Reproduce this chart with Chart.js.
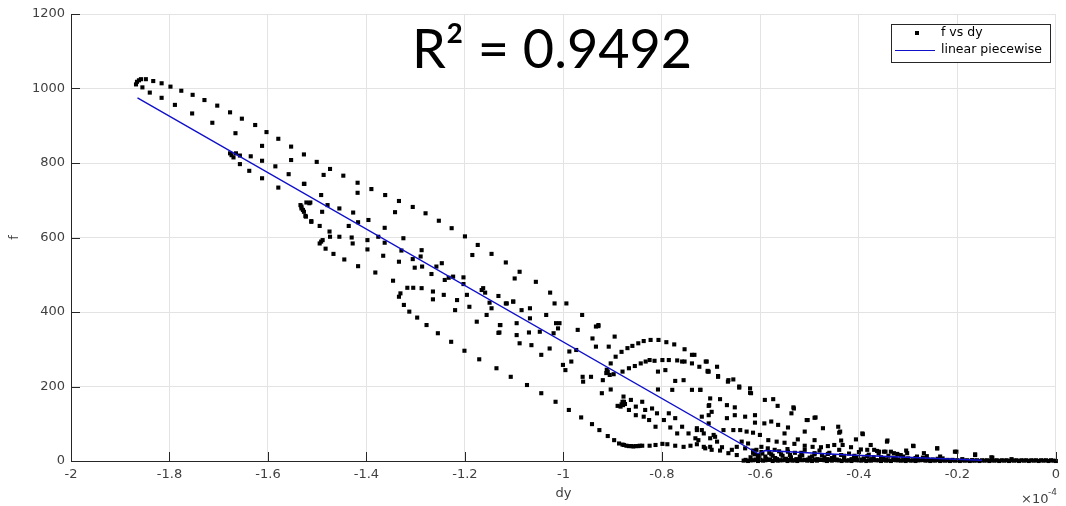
<!DOCTYPE html>
<html>
<head>
<meta charset="utf-8">
<script src="https://cdn.jsdelivr.net/npm/chart.js@4/dist/chart.umd.min.js"></script>
<style>
  html, body { margin: 0; padding: 0; background: #fff; }
  #wrap { position: relative; width: 1066px; height: 506px; }
  #r2 { position: absolute; left: 412px; top: 15px; font-family: "Lato"; font-size: 54px; color: #000; white-space: nowrap; }
</style>
</head>
<body>
<div id="wrap">
  <canvas id="myChart" width="1066" height="506"></canvas>
  <div id="r2">R² = 0.9492</div>
</div>
<script>
// dy values are in units of 1e-4 (axis shows the x10^-4 multiplier)
const xTicks = [-2, -1.8, -1.6, -1.4, -1.2, -1, -0.8, -0.6, -0.4, -0.2, 0]
const yTicks = [0, 200, 400, 600, 800, 1000, 1200]

// piecewise linear fit
const lineDy = [-1.865, -0.605, -0.59, -0.42, -0.15]
const lineF = [975, 20, 28, 16, 2]

// f vs dy samples
const ptsTop = [
  [-1.866,1018],[-1.868,1011],[-1.862,1022],[-1.858,1025],[-1.848,1025],[-1.833,1020],[-1.816,1014],[-1.798,1005],
  [-1.776,994],[-1.753,983],[-1.729,969],[-1.703,954],[-1.677,936],[-1.653,919],[-1.626,902],[-1.603,883],
  [-1.579,865],[-1.553,844],[-1.527,823],[-1.501,803],[-1.474,784],[-1.447,766],[-1.418,747],[-1.390,730],
  [-1.362,714],[-1.334,698],[-1.306,682],[-1.280,665],[-1.253,645],[-1.227,625],[-1.200,603],[-1.174,580],
  [-1.146,556],[-1.117,533],[-1.089,508],[-1.056,481],[-1.027,452],[-0.994,423],[-0.962,392],[-0.929,362],[-0.896,334]
]

const ptsLeft = [
  [-1.855,1003],[-1.840,989],[-1.816,975],[-1.789,956],[-1.754,933],[-1.713,908],[-1.666,880],[-1.612,846],
  [-1.585,791],[-1.553,808],[-1.527,744],[-1.677,826],[-1.674,821],[-1.670,815],[-1.665,826],[-1.657,820],
  [-1.635,818],[-1.612,806],[-1.657,797],[-1.638,779],[-1.612,759],[-1.579,734],[-1.558,770],
  [-1.534,687],[-1.532,678],[-1.527,669],[-1.522,694],[-1.516,692],[-1.512,642],[-1.523,656]
]

const ptsMid = [
  [-1.526,744],[-1.487,768],[-1.418,720],[-1.492,714],[-1.514,694],[-1.532,683],[-1.529,674],[-1.524,658],
  [-1.512,644],[-1.490,669],[-1.479,687],[-1.455,678],[-1.427,667],[-1.417,641],[-1.495,631],[-1.475,616],
  [-1.474,602],[-1.455,602],[-1.436,631],[-1.430,600],[-1.428,584],[-1.396,647],[-1.398,593],[-1.398,568],
  [-1.376,602],[-1.363,626],[-1.363,586],[-1.366,551],[-1.342,668],[-1.325,598],[-1.329,565],[-1.334,535],
  [-1.306,542],[-1.302,519],[-1.288,566],[-1.290,549],[-1.287,522],[-1.268,502],[-1.258,522],[-1.247,531],
  [-1.241,486],[-1.233,492],[-1.224,495],[-1.203,493],[-1.203,475],[-1.196,446],[-1.191,414],[-1.185,553],
  [-1.166,459],[-1.163,464],[-1.159,452],[-1.150,425],[-1.132,443],[-1.117,423],[-1.102,428],[-1.099,490],
  [-1.128,365],[-1.132,344],[-1.146,410],[-1.156,392],[-1.176,374],[-1.220,405],[-1.216,432],[-1.243,446],
  [-1.265,455],[-1.265,434],[-1.288,464],[-1.305,465],[-1.317,465],[-1.331,450],[-1.334,441],[-1.324,419],
  [-1.313,401],[-1.297,385],[-1.278,365],[-1.255,343],[-1.228,320],[-1.201,296],[-1.171,273],[-1.346,484],
  [-1.382,506],[-1.417,523],[-1.445,541],[-1.467,556],[-1.483,570],[-1.492,589],[-1.489,593],[-1.495,584]
]

const ptsHump = [
  [-1.129,365],[-1.115,423],[-1.102,428],[-1.085,405],[-1.068,410],[-1.068,383],[-1.035,392],[-1.018,423],
  [-1.095,370],[-1.130,345],[-1.095,338],[-1.070,345],[-1.048,347],[-1.015,370],[-1.011,356],[-1.020,343],
  [-1.008,370],[-0.971,352],[-0.934,361],[-0.929,365],[-0.941,329],[-0.908,307],[-0.934,307],[-0.974,298],
  [-0.988,294],[-1.028,302],[-1.045,285],[-1.065,311],[-1.089,316],
  [-1.136,249],[-1.107,226],[-1.074,204],[-1.045,182],[-1.016,159],[-0.989,137],[-0.964,117],[-0.942,99],
  [-0.927,83],[-0.910,67],[-0.897,56],[-0.887,47],[-0.880,44],[-0.877,43],[-0.872,41],[-0.867,40],[-0.862,40],
  [-0.858,39],[-0.853,40],[-0.848,40],[-0.845,41],[-0.840,41],[-0.825,41],[-0.813,43],[-0.799,46],[-0.789,45],
  [-0.773,41],[-0.756,38],[-0.742,41],[-0.729,45],[-0.715,38],[-0.702,38],
  [-0.695,70],[-0.705,123],[-0.705,148],[-0.719,83],[-0.729,88],[-0.732,61],[-0.746,74],[-0.759,92],
  [-0.769,74],[-0.773,115],[-0.783,90],[-0.796,110],[-0.786,128],[-0.810,128],[-0.813,92],[-0.820,141],
  [-0.834,137],[-0.837,119],[-0.853,123],[-0.853,146],[-0.867,137],[-0.880,159],[-0.884,146],[-0.877,159],
  [-0.890,148],[-0.878,173],[-0.863,164],[-0.840,159],[-0.826,110],[-0.882,152],[-0.879,150],[-0.875,153],
  [-1.001,258],[-0.996,244],[-0.984,267],[-0.961,226],[-0.960,213],[-0.944,226],[-0.920,217],[-0.904,192],
  [-0.922,182],[-0.808,240],[-0.808,192],[-0.779,191],[-0.773,215],[-0.756,217],[-0.739,191],[-0.722,191],
  [-0.707,240],[-0.793,244],[-0.709,267],[-0.759,267],[-0.739,285]
]

const ptsArcs = [
  [-0.904,262],[-0.894,280],[-0.882,293],[-0.870,303],[-0.860,309],[-0.848,316],[-0.837,322],[-0.823,325],
  [-0.807,325],[-0.791,319],[-0.775,313],[-0.754,300],[-0.734,285],[-0.711,267],[-0.688,253],[-0.665,217],
  [-0.643,200],[-0.621,183],
  [-0.880,240],[-0.867,249],[-0.855,255],[-0.843,262],[-0.833,267],[-0.825,271],[-0.815,269],[-0.799,271],
  [-0.786,271],[-0.769,270],[-0.754,267],[-0.739,262],[-0.724,253],[-0.707,242],[-0.686,228],
  [-0.912,245],[-0.913,236],[-0.906,231],[-0.898,233],[-0.910,240]
]

const ptsTail = [
  [-0.705,240],[-0.686,226],[-0.666,213],[-0.655,219],[-0.643,197],[-0.621,195],[-0.619,182],[-0.722,191],
  [-0.702,168],[-0.704,150],[-0.682,166],[-0.699,132],[-0.668,150],[-0.652,144],[-0.668,115],[-0.652,123],
  [-0.631,119],[-0.611,123],[-0.611,103],[-0.591,164],[-0.574,166],[-0.565,148],[-0.592,101],[-0.578,106],
  [-0.564,97],[-0.551,74],[-0.537,128],[-0.533,144],[-0.544,90],[-0.504,110],[-0.490,116],[-0.473,88],
  [-0.510,79],[-0.490,56],[-0.524,58],[-0.442,92],[-0.440,76],[-0.393,74],[-0.436,55],[-0.406,58],
  [-0.376,43],[-0.343,52],[-0.729,83],[-0.726,56],[-0.712,34],[-0.699,30],[-0.682,28],[-0.665,21],
  [-0.648,38],[-0.692,65],[-0.675,83],[-0.655,83],[-0.641,83],[-0.628,79],[-0.615,76],[-0.601,70],
  [-0.584,56],[-0.567,52],[-0.551,49],[-0.531,46],[-0.510,41],[-0.494,38],[-0.477,37],[-0.463,40],
  [-0.450,43],[-0.433,43],[-0.416,37],[-0.396,31],[-0.383,30],[-0.363,27],[-0.346,25],[-0.719,119],
  [-0.705,101],[-0.625,47],[-0.598,38],[-0.571,30],[-0.544,25],[-0.517,22],[-0.490,21],[-0.463,19],
  [-0.436,16],[-0.409,14],[-0.383,13],[-0.638,52],[-0.631,34],[-0.615,22],[-0.605,16],[-0.648,16],
  [-0.658,30],[-0.678,37],[-0.688,52],[-0.702,61],[-0.715,74],
  [-0.532,141],[-0.506,110],[-0.488,117],[-0.438,79],[-0.392,72],[-0.289,40],[-0.241,34],[-0.202,25],
  [-0.164,16],[-0.129,9],[-0.090,5],
  [-0.369,30],[-0.359,25],[-0.349,25],[-0.342,55],[-0.335,25],[-0.329,21],[-0.322,19],[-0.315,16],
  [-0.304,28],[-0.302,21],[-0.290,41],[-0.282,12],[-0.268,21],[-0.262,13],[-0.241,34],[-0.235,12],
  [-0.205,25],[-0.164,18],[-0.131,10],
  [-0.620,10],[-0.615,28],[-0.605,8],[-0.598,24],[-0.590,12],[-0.585,34],[-0.578,18],[-0.570,8],
  [-0.562,26],[-0.555,14],[-0.545,32],[-0.538,10],[-0.530,22],[-0.520,12],[-0.510,30],[-0.500,9],
  [-0.490,18],[-0.480,28],[-0.470,10],[-0.460,22],[-0.450,13],[-0.440,30],[-0.430,8],[-0.420,20],
  [-0.410,11],[-0.400,24],[-0.390,7],[-0.380,17],[-0.370,10],[-0.360,20],[-0.350,6],[-0.340,14],
  [-0.330,9],[-0.320,4],[-0.310,12],[-0.300,7],[-0.280,5],[-0.270,9],[-0.250,4],[-0.230,7],
  [-0.210,3],[-0.190,5],[-0.170,2]
]

// low cluster around the end of the steep segment
const ptsLow = [
  [-0.612,18],[-0.608,30],[-0.602,14],[-0.596,20],[-0.588,6],[-0.582,22],[-0.575,14],[-0.566,5],
  [-0.558,18],[-0.548,6],[-0.540,16],[-0.527,5],[-0.515,15],[-0.503,4],[-0.495,12],[-0.484,5],
  [-0.475,15],[-0.465,5],[-0.455,8],[-0.445,4],[-0.430,14],[-0.415,5],[-0.405,9],[-0.395,4],
  [-0.375,5],[-0.355,10],[-0.345,4],[-0.325,7],[-0.305,3],[-0.285,8],[-0.260,4],[-0.240,6],[-0.220,3]
]

// the dense row of samples sitting on f = 0
const ptsZeroRow = [
  [-0.634,1],[-0.625,0],[-0.615,2],[-0.605,0],[-0.595,1],[-0.585,3],[-0.575,0],[-0.565,1],
  [-0.555,2],[-0.545,0],[-0.535,1],[-0.525,0],[-0.515,2],[-0.505,1],[-0.495,0],[-0.485,1],
  [-0.475,3],[-0.465,0],[-0.455,1],[-0.445,2],[-0.435,0],[-0.425,1],[-0.415,0],[-0.405,2],
  [-0.395,1],[-0.385,0],[-0.375,1],[-0.365,2],[-0.355,0],[-0.345,1],[-0.335,0],[-0.325,2],
  [-0.315,1],[-0.305,0],[-0.295,1],[-0.285,0],[-0.275,2],[-0.265,1],[-0.255,0],[-0.245,1],
  [-0.235,0],[-0.225,1],[-0.215,0],[-0.205,1],[-0.195,0],[-0.185,1],[-0.175,0],[-0.165,1],
  [-0.155,0],[-0.145,1],[-0.135,0],[-0.125,1],[-0.115,0],[-0.105,1],[-0.095,0],[-0.085,1],
  [-0.075,0],[-0.065,1],[-0.055,0],[-0.045,1],[-0.035,0],[-0.025,1],[-0.015,0],[-0.005,1],[0,0]
]

const ptsZeroRow2 = [
  [-0.630,3],[-0.620,2],[-0.610,4],[-0.600,3],[-0.590,2],[-0.580,4],[-0.570,3],[-0.560,2],
  [-0.550,4],[-0.540,3],[-0.530,2],[-0.520,4],[-0.510,3],[-0.500,2],[-0.490,4],[-0.480,3],
  [-0.470,2],[-0.460,4],[-0.450,3],[-0.440,2],[-0.430,3],[-0.420,2],[-0.410,3],[-0.400,2],
  [-0.390,3],[-0.380,2],[-0.370,3],[-0.360,2],[-0.350,3],[-0.340,2],[-0.330,3],[-0.320,2],
  [-0.310,2],[-0.300,3],[-0.290,2],[-0.280,2],[-0.270,3],[-0.260,2],[-0.250,2],[-0.240,3],
  [-0.230,2],[-0.220,2],[-0.210,2],[-0.200,2],[-0.190,2],[-0.180,2],[-0.170,2],[-0.160,2],
  [-0.150,2],[-0.140,2],[-0.130,2],[-0.120,2],[-0.110,2],[-0.100,2],[-0.090,2],[-0.080,2],
  [-0.070,2],[-0.060,2],[-0.050,2],[-0.040,2],[-0.030,2],[-0.020,2],[-0.010,2]
]

const FONT = 'DejaVu Sans'
const AXIS_COLOR = '#262626'
const LINE_COLOR = '#1010cc'

let allPts = [].concat(ptsTop, ptsLeft, ptsMid, ptsHump, ptsArcs, ptsTail, ptsLow, ptsZeroRow, ptsZeroRow2)
let scatterData = allPts.map((p) => ({x: p[0], y: p[1]}))
let lineData = lineDy.map((d, i) => ({x: d, y: lineF[i]}))

function fmtTick(v){
    return String(+v.toFixed(1))
}

// MATLAB style ticks pointing into the axes, exponent label and legend box
let extras = {
    id: 'extras',
    afterDraw(chart){
        let ctx = chart.ctx
        let xs = chart.scales.x
        let ys = chart.scales.y
        let area = chart.chartArea

        ctx.save()
        ctx.strokeStyle = AXIS_COLOR
        ctx.lineWidth = 1
        ctx.beginPath()
        xTicks.forEach((t) => {
            let px = Math.round(xs.getPixelForValue(t)) + 0.5
            ctx.moveTo(px, area.bottom)
            ctx.lineTo(px, area.bottom - 9)
        })
        yTicks.forEach((t) => {
            let py = Math.round(ys.getPixelForValue(t)) + 0.5
            ctx.moveTo(area.left, py)
            ctx.lineTo(area.left + 9, py)
        })
        ctx.stroke()

        // x10^-4
        ctx.fillStyle = '#404040'
        ctx.textBaseline = 'alphabetic'
        ctx.textAlign = 'left'
        ctx.font = '13px "' + FONT + '"'
        ctx.fillText('\u00d710', 1021, 503)
        ctx.font = '9px "' + FONT + '"'
        ctx.fillText('-4', 1048, 495)

        // legend
        let lx = 891, ly = 24, lw = 159, lh = 38
        ctx.fillStyle = '#fff'
        ctx.fillRect(lx, ly, lw, lh)
        ctx.strokeStyle = AXIS_COLOR
        ctx.strokeRect(lx + 0.5, ly + 0.5, lw, lh)
        ctx.fillStyle = '#000'
        ctx.fillRect(915, 31, 4, 4)
        ctx.strokeStyle = LINE_COLOR
        ctx.beginPath()
        ctx.moveTo(895, 50.5)
        ctx.lineTo(935, 50.5)
        ctx.stroke()
        ctx.fillStyle = '#000'
        ctx.font = '12.5px "' + FONT + '"'
        ctx.textBaseline = 'middle'
        ctx.fillText('f vs dy', 941, 33)
        ctx.fillText('linear piecewise', 941, 50)
        ctx.restore()
    }
}

let config = {
    type: 'scatter',
    data: {
        datasets: [{
            label: 'linear piecewise',
            data: lineData,
            showLine: true,
            borderColor: LINE_COLOR,
            borderWidth: 1.4,
            pointRadius: 0,
            order: 0,
        }, {
            label: 'f vs dy',
            data: scatterData,
            pointStyle: 'rect',
            pointRadius: 2.9,
            pointBorderWidth: 0,
            backgroundColor: '#000',
            borderColor: '#000',
            clip: false,
            order: 1,
        }]
    },
    options: {
        responsive: false,
        animation: false,
        devicePixelRatio: 1,
        layout: {
            padding: {top: 14, right: 3, left: 0, bottom: 0}
        },
        scales: {
            x: {
                type: 'linear',
                min: -2,
                max: 0,
                afterFit: (s) => { s.height = 45 },
                afterBuildTicks: (s) => { s.ticks = xTicks.map((v) => ({value: v})) },
                ticks: {
                    padding: 6,
                    color: '#404040',
                    font: {family: FONT, size: 13},
                    maxRotation: 0,
                    callback: fmtTick,
                },
                grid: {color: '#e3e3e3', drawTicks: false},
                border: {color: AXIS_COLOR, width: 1},
                title: {
                    display: true,
                    text: 'dy',
                    color: '#404040',
                    font: {family: FONT, size: 13},
                    padding: {top: 0, bottom: 5},
                },
            },
            y: {
                type: 'linear',
                min: 0,
                max: 1200,
                afterFit: (s) => { s.width = 71 },
                afterBuildTicks: (s) => { s.ticks = yTicks.map((v) => ({value: v})) },
                ticks: {
                    padding: 6,
                    color: '#404040',
                    font: {family: FONT, size: 13},
                    callback: (v) => String(v),
                },
                grid: {color: '#e3e3e3', drawTicks: false},
                border: {color: AXIS_COLOR, width: 1},
                title: {
                    display: true,
                    text: 'f',
                    color: '#404040',
                    font: {family: FONT, size: 13},
                    padding: {top: 7, bottom: 0},
                },
            },
        },
        plugins: {
            legend: {display: false},
            tooltip: {enabled: false},
        },
    },
    plugins: [extras]
}

let mychart = new Chart(document.getElementById('myChart'), config)
</script>
</body>
</html>
